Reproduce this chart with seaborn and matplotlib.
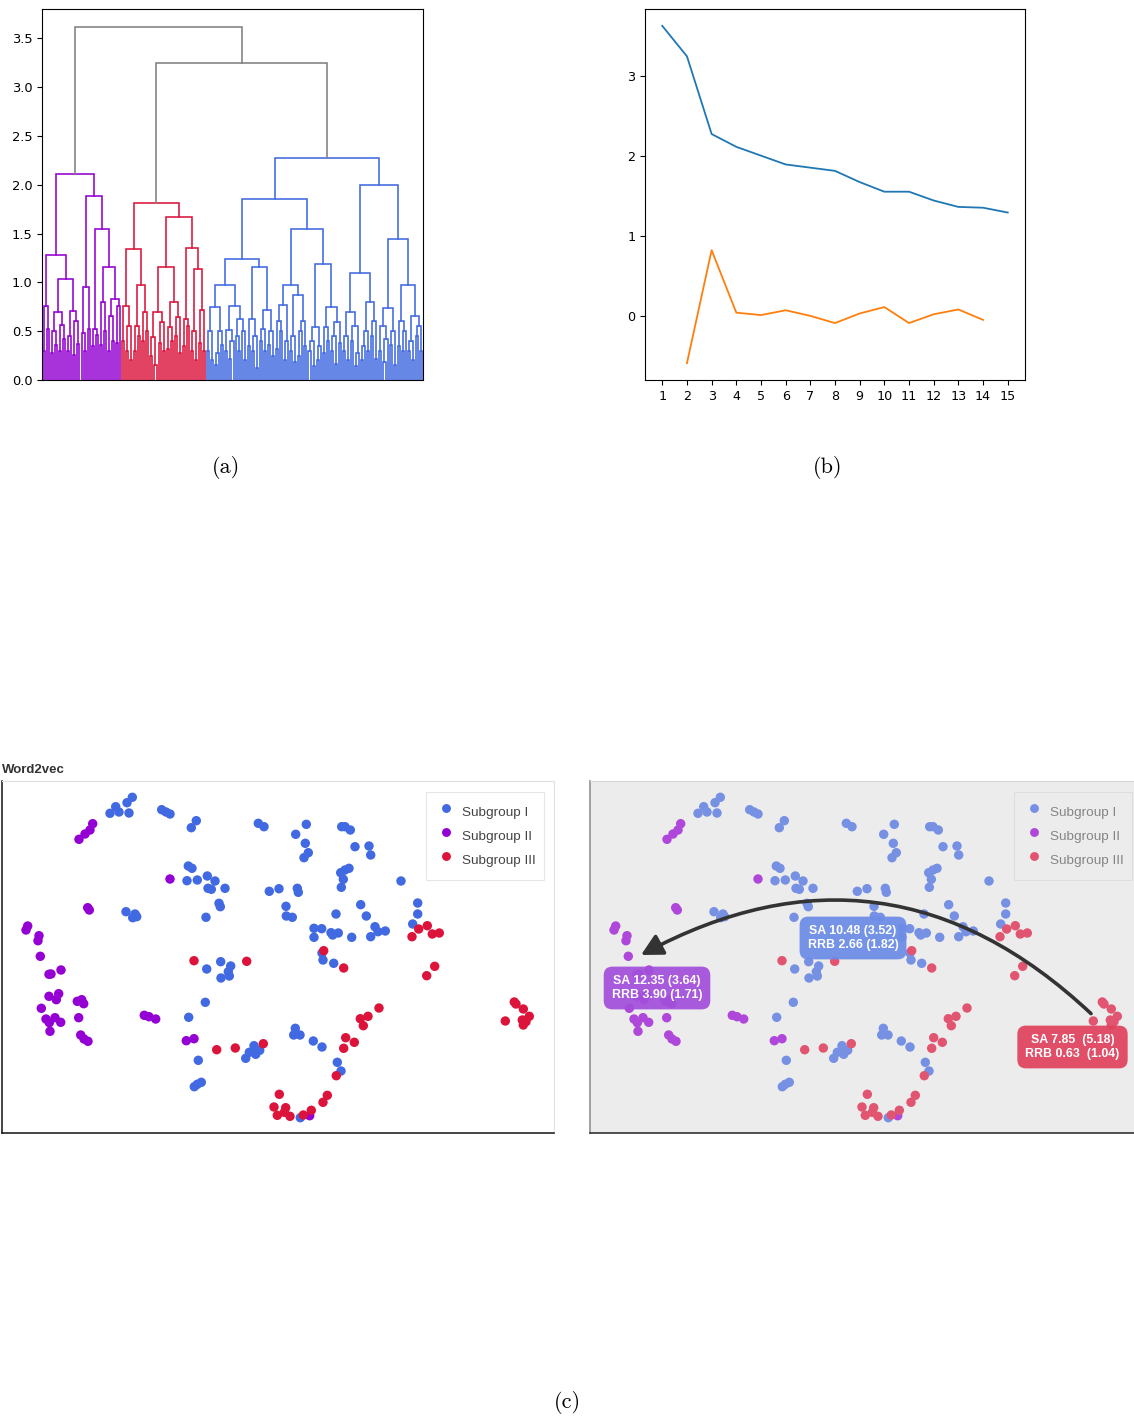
import numpy as np
import pandas as pd
import matplotlib
matplotlib.use("Agg")
import matplotlib.pyplot as plt
from matplotlib.lines import Line2D
import seaborn as sns

# ---------------- data ----------------
# (a) dendrogram: merge heights written as nested "(left,right)height", o = leaf
purple_tree = "((((o,o)0.3,(o,o)0.52)0.76,((((o,o)0.28,(o,o)0.36)0.5,((o,o)0.3,(o,o)0.42)0.565)0.695,(((o,o)0.3,o)0.45,((o,o)0.26,(o,o)0.37)0.6)0.705)1.03)1.283,(((o,(o,o)0.3)0.48,(o,o)0.52)0.95,(((o,o)0.35,(o,o)0.46)0.52,(((o,o)0.36,(o,o)0.5)0.8,(((o,o)0.3,(o,o)0.4)0.66,((o,o)0.38,o)0.76)0.83)1.157)1.55)1.89)2.115"
red_tree = "((((o,o)0.4,((o,o)0.3,(o,o)0.2)0.55)0.76,(((o,o)0.3,(o,o)0.45)0.55,((o,o)0.4,(o,o)0.5)0.7)0.975)1.345,(((((o,o)0.25,(o,o)0.15)0.445,((o,o)0.38,(o,o)0.3)0.59)0.7,(((o,o)0.32,(o,o)0.4)0.54,((o,o)0.45,(o,o)0.28)0.65)0.8)1.157,(((o,o)0.35,(o,o)0.55)0.62,(((o,o)0.3,(o,o)0.2)0.5,((o,o)0.38,(o,o)0.3)0.72)1.136)1.355)1.667)1.81"
blue_left = "(((((o,o)0.3,(o,o)0.2)0.5,(((o,o)0.15,o)0.28,(o,o)0.36)0.5)0.746,(((o,o)0.3,((o,o)0.22,o)0.4)0.51,((o,(o,o)0.3)0.45,(o,(o,o)0.2)0.5)0.62)0.76)0.97,(((o,o)0.35,((o,o)0.3,(o,o)0.12)0.45)0.62,(((o,o)0.4,(o,o)0.3)0.52,((o,o)0.36,(o,o)0.25)0.5)0.72)1.153)1.235"
blue_mid = "(((((o,o)0.32,(o,o)0.5)0.6,((o,o)0.2,o)0.4)0.77,(((o,o)0.3,(o,o)0.18)0.45,(((o,o)0.25,o)0.5,(o,o)0.35)0.6)0.866)0.97,((((o,o)0.3,(o,o)0.14)0.4,((o,o)0.2,o)0.35)0.54,(((o,o)0.28,(o,o)0.4)0.54,(((o,o)0.3,(o,o)0.16)0.45,(o,o)0.38)0.59)0.75)1.19)1.547"
blue_right = "(((((o,o)0.3,(o,o)0.2)0.45,((o,o)0.4,((o,o)0.14,o)0.28)0.55)0.695,((((o,o)0.2,o)0.35,(o,o)0.3)0.5,((o,o)0.45,(o,o)0.22)0.6)0.8)1.095,((((o,o)0.3,((o,o)0.18,o)0.42)0.55,((o,o)0.36,(o,o)0.15)0.5)0.736,(((o,o)0.35,((o,o)0.3,o)0.5)0.6,(((o,o)0.3,(o,o)0.2)0.4,((o,o)0.45,(o,o)0.3)0.55)0.66)0.97)1.444)2.0"
blue_heights = [1.855, 2.276]
top_heights = [3.25, 3.62]
cluster_colors = ["#9400D3", "#DC143C", "#4169E1"]

# (b) curves
k_values = list(range(1, 16))
blue_curve = [3.62, 3.24, 2.27, 2.11, 2.00, 1.89, 1.85, 1.81, 1.67, 1.55, 1.55, 1.44, 1.36, 1.35, 1.29]
orange_curve = [np.nan, -0.59, 0.82, 0.04, 0.01, 0.07, 0.00, -0.09, 0.03, 0.11, -0.09, 0.02, 0.08, -0.05, np.nan]

# (c) embedding points
subgroup1 = [(132.3, 797.3), (127, 802.7), (115.7, 806.7), (110, 813.3), (119, 812), (129, 813),
             (161.7, 809.7), (166, 812), (170, 814), (196.3, 820.7), (191.3, 827.7), (258.3, 823.3),
             (264, 826.7), (188.3, 866), (192, 868.3), (187, 880.7), (197.3, 880), (207.3, 876),
             (215, 881), (208, 888.3), (211.3, 889.3), (225, 888.3), (269.3, 891.3), (279, 888.7),
             (219, 903.3), (220.3, 906.7), (206, 917.3), (126, 911.7), (132.7, 917.7), (136.7, 916.7),
             (135, 914), (306.3, 824.3), (295.7, 834.3), (305.3, 843.3), (308.3, 852.7), (304, 857.7),
             (341.7, 826.7), (345, 826.7), (350.3, 830), (355, 846.7), (369, 846), (370.7, 855),
             (349, 868.3), (345, 870), (340.7, 872.7), (343.3, 879.3), (341.3, 887.3), (401, 881),
             (297.3, 888.3), (298.3, 892.3), (286, 906.3), (286.3, 916), (292.3, 917.3), (336, 914),
             (360.7, 904.7), (366.3, 916), (417.7, 903), (417.7, 914), (412.7, 924), (314, 928.3),
             (321.7, 928.7), (314, 937.3), (331, 932.7), (332.7, 935), (338.3, 933), (351.7, 937.3),
             (375, 926.7), (378, 931.7), (385.3, 931), (370.7, 936.7), (322, 953), (323, 960),
             (333.7, 963.3), (220.7, 961.7), (206.7, 969), (230.7, 966), (228.3, 971.7), (221, 978),
             (229.3, 976), (205.3, 1002.3), (188.7, 1017.3), (198.3, 1060.3), (194.3, 1086.7),
             (197.3, 1084.3), (201.3, 1082.3), (245.7, 1058.3), (249.3, 1052.3), (254, 1045.7),
             (255.7, 1054.3), (259.7, 1050.3), (295.3, 1028.3), (293.7, 1035), (300, 1035),
             (313.3, 1041), (322, 1047), (337.3, 1062.3), (341, 1071), (300.3, 1117.7)]
subgroup2 = [(92.7, 823.7), (90, 830), (85, 834), (79, 839.3), (170, 879), (87.7, 907.7), (89.3, 910),
             (27.7, 926), (26, 930), (39, 935.7), (38, 940.7), (40.3, 956.3), (49, 974.3), (51, 974),
             (61, 970), (49, 996.3), (58.7, 993.7), (56.3, 999.7), (77.3, 1001.3), (81.7, 999.7),
             (83.7, 1003.7), (41.3, 1008.3), (46, 1019), (55, 1017.7), (49.3, 1022.7), (60.7, 1022.3),
             (78.7, 1017.7), (50, 1031.3), (80.7, 1035), (84, 1039), (88, 1041.3), (144.3, 1015.3),
             (149, 1016.7), (155.7, 1019), (186.3, 1040.7), (194, 1038.7), (309.7, 1115.7)]
subgroup3 = [(323.7, 950.7), (418.7, 929), (427.3, 925.7), (412, 936.7), (432.3, 934), (439.3, 933),
             (194, 960.7), (246.7, 961.3), (216.7, 1049.7), (235.3, 1048), (263.3, 1043.7),
             (279.3, 1094.3), (274, 1107), (277.3, 1115.3), (343.7, 968), (434.7, 966.3), (426.7, 975.7),
             (379, 1008), (368, 1016.3), (360.3, 1018.7), (363.3, 1025.7), (345.7, 1037.7),
             (354.3, 1042.3), (343.7, 1048.3), (336.3, 1075.7), (285.7, 1107.7), (284.3, 1112.3),
             (290, 1116.3), (303.3, 1115), (311.3, 1110.3), (323, 1102.3), (327.3, 1095.3),
             (514.3, 1002), (516, 1004), (523.3, 1009), (529.3, 1016.3), (505.3, 1021), (522.3, 1020),
             (526, 1021.7), (523.3, 1025)]
group_names = ["Subgroup I", "Subgroup II", "Subgroup III"]
group_colors = ["#4169E1", "#9400D3", "#DC143C"]
faded_colors = ["#7690e4", "#ae47da", "#e15571"]

box_texts = ["SA 10.48 (3.52)\nRRB 2.66 (1.82)", "SA 12.35 (3.64)\nRRB 3.90 (1.71)", "SA 7.85  (5.18)\nRRB 0.63  (1.04)"]
box_xy = [(265, 938), (69, 988), (484.5, 1047)]
box_colors = ["#6c8ce6", "#a34fdb", "#e0425d"]

# ---------------- helpers ----------------
def parse_tree(s):
    pos = 0

    def node():
        nonlocal pos
        if s[pos] == "o":
            pos += 1
            return None
        pos += 1
        left = node()
        pos += 1
        right = node()
        pos += 1
        j = pos
        while pos < len(s) and s[pos] in "0123456789.":
            pos += 1
        return (float(s[j:pos]), left, right)

    t = node()
    assert pos == len(s)
    return t


W, H = 1134, 1418
fig = plt.figure(figsize=(W / 100, H / 100), dpi=100)


def px_axes(left, top, right, bottom):
    return fig.add_axes([left / W, 1 - bottom / H, (right - left) / W, (bottom - top) / H])


# ---------------- (a) dendrogram ----------------
blue_tree = (blue_heights[1], (blue_heights[0], parse_tree(blue_left), parse_tree(blue_mid)), parse_tree(blue_right))
tree = (top_heights[1], parse_tree(purple_tree), (top_heights[0], parse_tree(red_tree), blue_tree))
threshold = 2.5
links = []
n_leaves = [0]
color_iter = iter(cluster_colors)


def layout(t, color=None):
    if t is None:
        x = 5 + 10 * n_leaves[0]
        n_leaves[0] += 1
        return x, 0.0
    h, l, r = t
    if color is None and h <= threshold:
        color = next(color_iter)
    xl, hl = layout(l, color)
    xr, hr = layout(r, color)
    links.append(([xl, xl, xr, xr], [hl, h, h, hr], color or "#808080"))
    return (xl + xr) / 2, h


layout(tree)
ax_a = px_axes(42, 9, 423, 380)
for xs, ys, c in links:
    ax_a.plot(xs, ys, color=c, lw=1.15, solid_joinstyle="miter")
ax_a.set_xlim(0, 10 * n_leaves[0])
ax_a.set_ylim(0, top_heights[1] * 1.05)
ax_a.set_xticks([])
ax_a.tick_params(labelsize=9.4, length=3.5, width=0.8)

# ---------------- (b) curves ----------------
df_b = pd.DataFrame({
    "k": k_values * 2,
    "value": blue_curve + orange_curve,
    "series": ["a"] * 15 + ["b"] * 15,
})
ax_b = px_axes(645, 9, 1025, 380)
sns.lineplot(data=df_b, x="k", y="value", hue="series", palette=["#1f77b4", "#ff7f0e"],
             legend=False, lw=1.3, ax=ax_b)
ax_b.set_xticks(k_values)
ax_b.set_xlabel("")
ax_b.set_ylabel("")
ax_b.tick_params(labelsize=9.2, length=3.5, width=0.8)

for label, x in [("(a)", 226), ("(b)", 828)]:
    fig.text(x / W, 1 - 467 / H, label, family="cmr10", fontsize=16, ha="center", va="center")
fig.text(567 / W, 1 - 1403 / H, "(c)", family="cmr10", fontsize=16, ha="center", va="center")

# ---------------- (c) embedding ----------------
rows = []
for name, pts in zip(group_names, [subgroup1, subgroup2, subgroup3]):
    for x, y in pts:
        rows.append((x, y, name))
df_c = pd.DataFrame(rows, columns=["x", "y", "group"])


def scatter_panel(ax, colors, bg, text_color, edge):
    ax.set_facecolor(bg)
    sns.scatterplot(data=df_c, x="x", y="y", hue="group", palette=dict(zip(group_names, colors)),
                    s=46, linewidth=0, legend=False, ax=ax, zorder=2)
    ax.set_xlim(2, 554)
    ax.set_ylim(1133, 781)
    ax.set_xticks([])
    ax.set_yticks([])
    ax.set_xlabel("")
    ax.set_ylabel("")
    handles = [Line2D([], [], marker="o", ls="", markersize=6.4, color=c, markeredgewidth=0) for c in colors]
    leg = ax.legend(handles, group_names, loc="upper right", bbox_to_anchor=(0.982, 0.969),
                    borderaxespad=0, frameon=True, fancybox=False, framealpha=1,
                    prop={"family": "Liberation Sans", "size": 9.7}, labelcolor=text_color,
                    handlelength=1.75, handleheight=2.2, handletextpad=0.28, borderpad=0.64,
                    labelspacing=0.1)
    leg.get_frame().set_edgecolor(edge)
    leg.get_frame().set_facecolor(bg)
    leg.get_frame().set_linewidth(0.8)


ax_c1 = px_axes(2, 781, 554, 1133)
scatter_panel(ax_c1, group_colors, "white", "#444444", "#e6e6e6")
for side in ["top", "right"]:
    ax_c1.spines[side].set_color("#e0e0e0")
for side in ["left", "bottom"]:
    ax_c1.spines[side].set_color("#111111")
    ax_c1.spines[side].set_linewidth(1.1)
fig.text(2 / W, 1 - 770 / H, "Word2vec", family="Liberation Sans", fontweight="bold",
         fontsize=9.5, color="#333333", ha="left", va="center")

ax_c2 = px_axes(590, 781, 1142, 1133)
scatter_panel(ax_c2, faded_colors, "#ececec", "#858585", "#dedede")
ax_c2.spines["top"].set_color("#d6d6d6")
ax_c2.spines["right"].set_visible(False)
ax_c2.spines["left"].set_color("#9a9a9a")
ax_c2.spines["left"].set_linewidth(1.3)
ax_c2.spines["bottom"].set_color("#222222")
ax_c2.spines["bottom"].set_linewidth(1.1)

for txt, (x, y), c in zip(box_texts, box_xy, box_colors):
    ax_c2.text(x, y, txt, ha="center", va="center", multialignment="center", color="white",
               family="Liberation Sans", fontweight="bold", fontsize=8.9, linespacing=1.3, zorder=4,
               bbox=dict(boxstyle="round,pad=0.65,rounding_size=0.7", fc=c, ec="none", alpha=0.93))

ax_c2.annotate("", xy=(53, 955), xytext=(503, 1013.6), zorder=5,
               arrowprops=dict(arrowstyle="-|>,head_length=0.8,head_width=0.42",
                               connectionstyle="arc3,rad=0.36", color="#333333", lw=2.6,
                               shrinkA=0, shrinkB=0, mutation_scale=16))

fig.savefig("out.png", dpi=100)
